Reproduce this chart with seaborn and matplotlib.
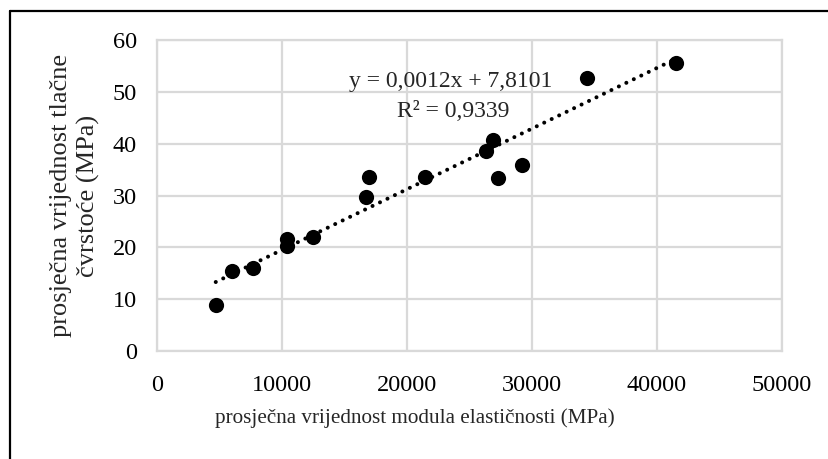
import numpy as np
import pandas as pd
import matplotlib
matplotlib.use("Agg")
import matplotlib.pyplot as plt
import seaborn as sns
from matplotlib.lines import Line2D

# Mean modulus of elasticity (MPa) and mean compressive strength (MPa)
modulus = [4700, 6000, 7700, 10400, 10400, 12500, 16700, 17000, 21400,
           26300, 26900, 27300, 29200, 34400, 41500]
strength = [8.8, 15.5, 16.0, 21.6, 20.2, 21.9, 29.8, 33.6, 33.5,
            38.5, 40.8, 33.4, 35.9, 52.6, 55.5]

# Linear trend line parameters
trend_slope = 0.00117
trend_intercept = 7.8101
r_squared = 0.9339

x_ticks = [0, 10000, 20000, 30000, 40000, 50000]
y_ticks = [0, 10, 20, 30, 40, 50, 60]

x_title = "prosječna vrijednost modula elastičnosti (MPa)"
y_title = "prosječna vrijednost tlačne\nčvrstoće (MPa)"

df = pd.DataFrame({"E": modulus, "fc": strength})

sns.set_theme(style="white")
plt.rcParams["font.family"] = ["Liberation Serif", "DejaVu Serif"]

W, H = 829, 459
fig = plt.figure(figsize=(W / 100, H / 100), dpi=100)
ax = fig.add_axes([157 / W, 1 - 351 / H, (782 - 157) / W, (351 - 40) / H])

grid_col = "#d9d9d9"

# trend line over the range of the data
xs = np.array([min(modulus), max(modulus)])
ax.plot(xs, trend_slope * xs + trend_intercept, color="black", lw=2.9,
        linestyle=(0, (0.01, 2.05)), dash_capstyle="round", zorder=2)

sns.scatterplot(data=df, x="E", y="fc", ax=ax, color="black", s=120,
                edgecolor="black", linewidth=0, zorder=3, clip_on=False)

ax.set_xlim(0, 50000)
ax.set_ylim(0, 60)
ax.set_xticks(x_ticks)
ax.set_yticks(y_ticks)
ax.set_xticklabels([str(v) for v in x_ticks], fontsize=17.5)
ax.set_yticklabels([str(v) for v in y_ticks], fontsize=17.5)
ax.tick_params(axis="both", length=0, colors="black")
ax.tick_params(axis="x", pad=17)
ax.tick_params(axis="y", pad=14.4)
ax.grid(True, color=grid_col, lw=1.6)
for s in ax.spines.values():
    s.set_color(grid_col)
    s.set_linewidth(1.6)
ax.set_xlabel("")
ax.set_ylabel("")

# axis titles
fig.text(415 / W, 1 - 418 / H, x_title, fontsize=15.2, ha="center", va="center")
fig.text(75 / W, 1 - 195.5 / H, y_title, fontsize=19, ha="center", va="center",
         rotation=90, linespacing=1.3, multialignment="center")

eq = f"y = {trend_slope:.4f}x + {trend_intercept:.4f}".replace(".", ",")
r2 = f"R² = {r_squared:.4f}".replace(".", ",")
ax.text(23520, 51.9, eq, fontsize=17, ha="center", va="center", zorder=4)
ax.text(23680, 46.3, r2, fontsize=17, ha="center", va="center", zorder=4)

# chart frame
fig.add_artist(Line2D([10 / W, 10 / W], [0, 1 - 10.5 / H],
                      transform=fig.transFigure, color="black", lw=1.6))
fig.add_artist(Line2D([10 / W, 1], [1 - 10.5 / H, 1 - 10.5 / H],
                      transform=fig.transFigure, color="black", lw=1.6))

fig.savefig("out.png", dpi=100, facecolor="white")
